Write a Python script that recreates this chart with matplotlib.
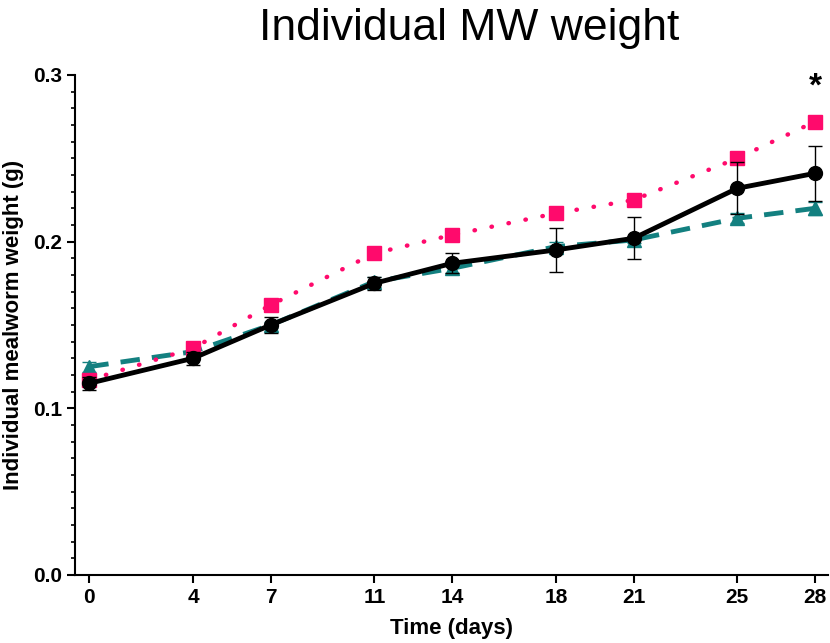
import numpy as np
import matplotlib
matplotlib.use('Agg')
import matplotlib.pyplot as plt
from matplotlib.ticker import MultipleLocator

plt.rcParams['font.family'] = ['Liberation Sans', 'DejaVu Sans']

# Data
days = [0, 4, 7, 11, 14, 18, 21, 25, 28]

black_mean = [0.115, 0.130, 0.150, 0.175, 0.187, 0.195, 0.202, 0.232, 0.241]
black_err = [0.004, 0.004, 0.005, 0.004, 0.006, 0.013, 0.0125, 0.0155, 0.0165]

pink_mean = [0.117, 0.136, 0.162, 0.193, 0.204, 0.217, 0.225, 0.250, 0.272]
pink_err = [0.003, 0.002, 0.002, 0.002, 0.002, 0.002, 0.002, 0.003, 0.002]

teal_mean = [0.125, 0.134, 0.150, 0.176, 0.184, 0.197, 0.201, 0.214, 0.220]
teal_err = [0.003, 0.002, 0.002, 0.003, 0.003, 0.003, 0.002, 0.003, 0.004]

fig = plt.figure(figsize=(8.3, 6.43), dpi=100)
ax = fig.add_axes([0.0904, 0.1058, 0.9072, 0.7776])

teal = '#138080'
pink = '#ff0a6c'

# teal dashed
ax.plot(days, teal_mean, color=teal, lw=3.5, ls=(0, (4, 2.5)), zorder=2)
ax.errorbar(days, teal_mean, yerr=teal_err, color=teal, ls='none', marker='^',
            ms=10, capsize=5, elinewidth=1, zorder=2)

# pink dotted
ax.plot(days, pink_mean, color=pink, lw=3.2, ls=(0, (0.1, 3.8)),
        dash_capstyle='round', zorder=3)
ax.errorbar(days, pink_mean, yerr=pink_err, color=pink, ls='none', marker='s',
            ms=10, capsize=5, elinewidth=1, zorder=3)

# black solid
ax.errorbar(days, black_mean, yerr=black_err, color='black', lw=3.5, ls='-',
            marker='o', ms=10, capsize=5, elinewidth=1, ecolor='black', zorder=4)

ax.text(28, 0.2925, '*', ha='center', va='center', fontsize=24, fontweight='bold')

ax.set_xlim(-0.55, 28.5)
ax.set_ylim(0, 0.3)
ax.set_xticks(days)
ax.set_yticks([0.0, 0.1, 0.2, 0.3])
ax.yaxis.set_minor_locator(MultipleLocator(0.01))
ax.set_yticklabels(['0.0', '0.1', '0.2', '0.3'])

for s in ['top', 'right']:
    ax.spines[s].set_visible(False)
for s in ['left', 'bottom']:
    ax.spines[s].set_linewidth(1.5)

ax.tick_params(axis='both', which='major', length=6, width=1.5, labelsize=15)
ax.tick_params(axis='y', which='minor', length=3, width=1.2)
for lab in ax.get_xticklabels() + ax.get_yticklabels():
    lab.set_fontweight('bold')

ax.set_xlabel('Time (days)', fontsize=16, fontweight='bold', labelpad=8)
ax.set_ylabel('Individual mealworm weight (g)', fontsize=16, fontweight='bold', labelpad=6)
fig.text(0.565, 0.955, 'Individual MW weight', ha='center', va='center', fontsize=32)

fig.savefig('out.png', dpi=100)
